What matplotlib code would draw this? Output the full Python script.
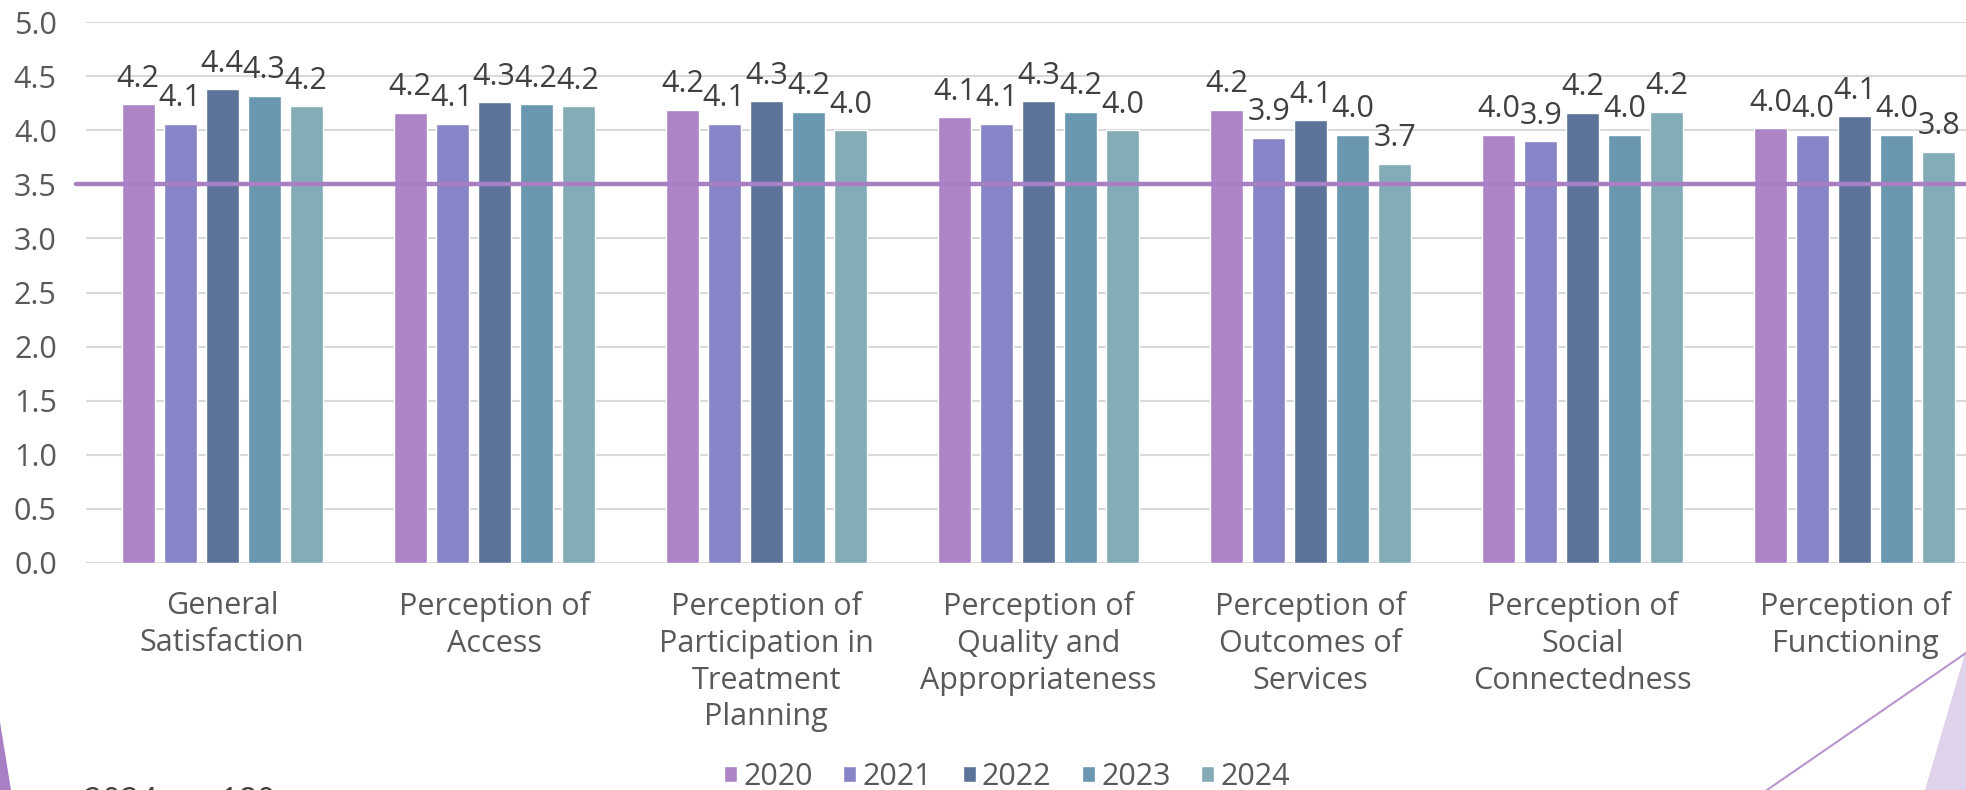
import matplotlib
matplotlib.use("Agg")
import matplotlib.pyplot as plt
from matplotlib.patches import Polygon
from matplotlib.lines import Line2D
import numpy as np

# Survey domains and mean scores per year
categories = [
    "General\nSatisfaction",
    "Perception of\nAccess",
    "Perception of\nParticipation in\nTreatment\nPlanning",
    "Perception of\nQuality and\nAppropriateness",
    "Perception of\nOutcomes of\nServices",
    "Perception of\nSocial\nConnectedness",
    "Perception of\nFunctioning",
]
years = ["2020", "2021", "2022", "2023", "2024"]
scores_2020 = [4.24, 4.16, 4.19, 4.12, 4.19, 3.96, 4.02]
scores_2021 = [4.06, 4.06, 4.06, 4.06, 3.93, 3.90, 3.96]
scores_2022 = [4.38, 4.26, 4.27, 4.27, 4.09, 4.16, 4.13]
scores_2023 = [4.32, 4.24, 4.17, 4.17, 3.96, 3.96, 3.96]
scores_2024 = [4.22, 4.22, 4.00, 4.00, 3.69, 4.17, 3.80]
benchmark = 3.5
y_ticks = [0.0, 0.5, 1.0, 1.5, 2.0, 2.5, 3.0, 3.5, 4.0, 4.5, 5.0]
footnote = "2024 n = 180"

series = [scores_2020, scores_2021, scores_2022, scores_2023, scores_2024]
colors = ["#AD84C6", "#8784C7", "#5D739A", "#6997AF", "#84ACB6"]

plt.rcParams["font.family"] = ["Open Sans", "DejaVu Sans"]

W, H = 1966, 790
fig = plt.figure(figsize=(W / 100, H / 100), dpi=100)
fig.patch.set_facecolor("white")

ax = fig.add_axes([86 / W, 1 - 563 / H, (W - 86) / W, (563 - 22) / H])
ax.set_facecolor("white")

x = np.arange(len(categories))
bar_w = 0.1213
step = 0.1544

label_color = "#404040"
tick_color = "#595959"
fs = 22

handles = []
for i, (vals, col, yr) in enumerate(zip(series, colors, years)):
    pos = x + (i - 2) * step
    bars = ax.bar(pos, vals, width=bar_w, color=col, edgecolor="white",
                  linewidth=1.0, zorder=2, label=yr)
    handles.append(bars)
    for xp, v in zip(pos, vals):
        ax.annotate(f"{v:.1f}", xy=(xp, v), xytext=(0, 7.5),
                    textcoords="offset points", ha="center", va="bottom",
                    fontsize=fs, color=label_color, zorder=4,
                    annotation_clip=False)

xmax = (W - 222.5) / 272.08
ax.set_xlim(-0.5, xmax)
ax.set_ylim(0, 5)

# benchmark line
ax.plot([-0.535, xmax], [benchmark, benchmark], color="#A97FC4", lw=3.2,
        solid_capstyle="round", zorder=3, clip_on=False)

ax.set_yticks(y_ticks)
ax.set_yticklabels([f"{t:.1f}" for t in y_ticks])
ax.yaxis.grid(True, color="#D9D9D9", lw=1.5, zorder=0)
ax.set_axisbelow(True)
for s in ax.spines.values():
    s.set_visible(False)
ax.tick_params(axis="y", length=0, pad=21, labelsize=fs, labelcolor=tick_color)
ax.set_xticks(x)
ax.set_xticklabels(categories, linespacing=1.3)
ax.tick_params(axis="x", length=0, pad=20, labelsize=fs, labelcolor=tick_color)

leg = fig.legend(handles=handles, labels=years, loc="center",
                 bbox_to_anchor=(1007 / W, 1 - 777 / H), ncol=5, frameon=False,
                 handlelength=0.43, handleheight=0.43, handletextpad=0.2,
                 columnspacing=1.0, borderpad=0, fontsize=fs)
for t in leg.get_texts():
    t.set_color(tick_color)

# decorative shapes
def px(xp, yp):
    return (xp / W, 1 - yp / H)

fig.add_artist(Polygon([px(0, 722), px(11, 790), px(0, 790)], closed=True,
                       facecolor="#A97FC4", edgecolor="none",
                       transform=fig.transFigure))
fig.add_artist(Polygon([px(W, 650), px(1925, 790), px(W, 790)], closed=True,
                       facecolor="#DFD2EA", edgecolor="none",
                       transform=fig.transFigure))
fig.add_artist(Line2D([1767 / W, 1.0], [0, 1 - 653 / H], color="#B894D0",
                      lw=1.5, transform=fig.transFigure))

fig.text(84 / W, 1 - 786 / H, footnote, ha="left", va="top", fontsize=23,
         color=label_color)

fig.savefig("out.png", dpi=100, facecolor="white")
